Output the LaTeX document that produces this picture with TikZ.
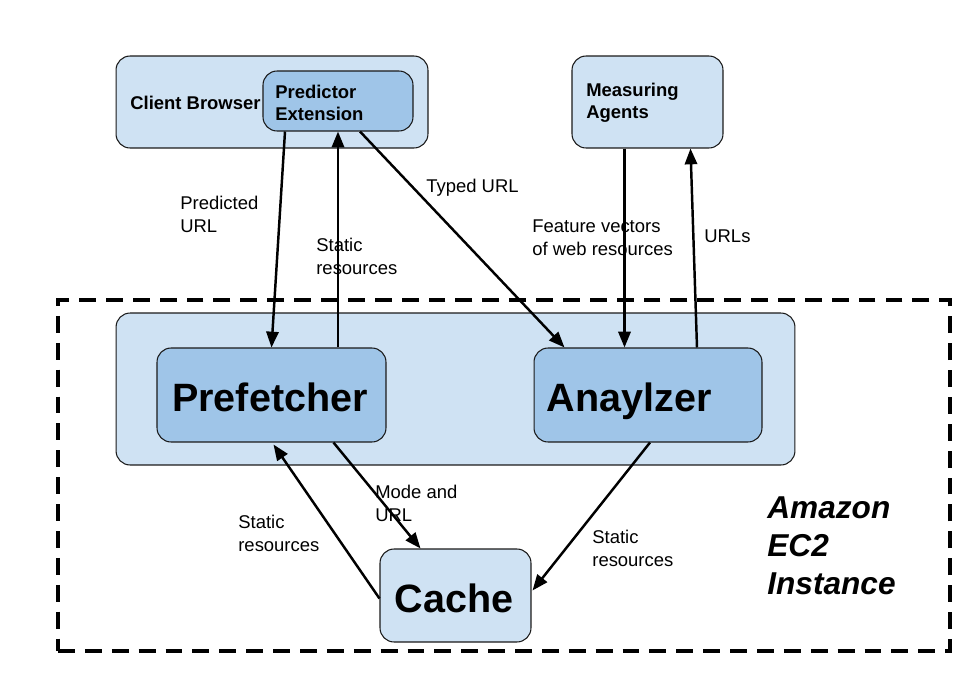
\documentclass[tikz,border=0pt]{standalone}
\usepackage{fontspec}
\setmainfont{Liberation Sans}
\usetikzlibrary{positioning,calc,arrows.meta}
\definecolor{ecBoxLight}{HTML}{CFE2F3}
\definecolor{ecBoxDark}{HTML}{9FC5E8}
\definecolor{ecLine}{HTML}{1A1A1A}

\tikzset{
  box/.style={draw=ecLine, line width=0.6pt, rounded corners=8pt, inner sep=0pt},
  lightbox/.style={box, fill=ecBoxLight},
  darkbox/.style={box, fill=ecBoxDark},
  flow/.style={line width=1.4pt, -{Triangle[length=9pt,width=7pt]}},
  lbl/.style={anchor=west, align=left, inner sep=0pt, font=\fontsize{10.5}{13}\selectfont},
  boxtxt/.style={anchor=west, align=left, inner sep=0pt, font=\fontsize{10.5}{12.5}\selectfont\bfseries},
  bigtxt/.style={anchor=base, inner sep=0pt, font=\fontsize{22.5}{26}\selectfont\bfseries},
}

\begin{document}
\begin{tikzpicture}[x=0.02cm, y=-0.02cm]

\useasboundingbox (0,0) rectangle (974,680);

% --- EC2 INSTANCE (dashed frame) ---
\node[draw=black, line width=2pt, dash pattern=on 9.6pt off 5.7pt,
      minimum width=17.84cm, minimum height=7.02cm, inner sep=0pt]
  (ec2) at (504,475.5) {};
\node[anchor=west, align=left, inner sep=0pt,
      font=\fontsize{18}{21.5}\selectfont\bfseries\itshape]
  (ec2Txt) at (767,546) {Amazon\\EC2\\Instance};

% --- CLIENT SIDE ---
\node[lightbox, minimum width=6.24cm, minimum height=1.84cm] (browser) at (272,102) {};
\node[boxtxt] (browserTxt) at (130,103) {Client Browser};
\node[darkbox, minimum width=3.0cm, minimum height=1.2cm] (predictor) at (338,101) {};
\node[boxtxt] (predictorTxt) at (275,103) {Predictor\\Extension};

\node[lightbox, minimum width=3.02cm, minimum height=1.84cm] (agents) at (647.5,102) {};
\node[boxtxt] (agentsTxt) at (586,103) {Measuring\\Agents};

% --- SERVER SIDE ---
\node[lightbox, minimum width=13.58cm, minimum height=3.04cm] (server) at (455.5,389) {};
\node[darkbox, minimum width=4.58cm, minimum height=1.88cm] (prefetcher) at (271.5,395) {};
\node[bigtxt] (prefetcherTxt) at (270,411) {Prefetcher};
\node[darkbox, minimum width=4.56cm, minimum height=1.88cm] (analyzer) at (648,395) {};
\node[bigtxt] (analyzerTxt) at (629,411) {Anaylzer};

\node[lightbox, minimum width=3.02cm, minimum height=1.86cm] (cache) at (455.5,595.5) {};
\node[bigtxt] (cacheTxt) at (454,612) {Cache};

% --- CONNECTORS ---
\coordinate (fvTop) at ($(agents.south)+(-23,0)$);
\draw[flow] ($(predictor.south)+(-53,0)$) -- (prefetcher.north);
\draw[flow] (prefetcher.north -| predictor.south) -- (predictor.south);
\draw[flow] ($(predictor.south)+(22,0)$) -- ($(analyzer.north west)+(31,0)$);
\draw[flow] (fvTop) -- (fvTop |- analyzer.north);
\draw[flow] ($(analyzer.north)+(49,0)$) -- ($(agents.south)+(43,0)$);
\draw[flow] ($(cache.west)+(0,3)$) -- ($(prefetcher.south)+(2,2)$);
\draw[flow] ($(prefetcher.south)+(62,0)$) -- ($(cache.north)+(-35,0)$);
\draw[flow] ($(analyzer.south)+(2,0)$) -- ($(cache.east)+(1,-5)$);

% --- LABELS ---
\node[lbl] (lblPredicted) at (180,214.5) {Predicted\\URL};
\node[lbl] (lblStaticUp) at (316,256.5) {Static\\resources};
\node[lbl] (lblTyped) at (426,188) {Typed URL};
\node[lbl] (lblFeature) at (532,238) {Feature vectors\\of web resources};
\node[lbl] (lblUrls) at (704,236) {URLs};
\node[lbl] (lblStaticLeft) at (238,533.5) {Static\\resources};
\node[lbl] (lblMode) at (375,503) {Mode and\\URL};
\node[lbl] (lblStaticRight) at (592,548) {Static\\resources};

\end{tikzpicture}
\end{document}
